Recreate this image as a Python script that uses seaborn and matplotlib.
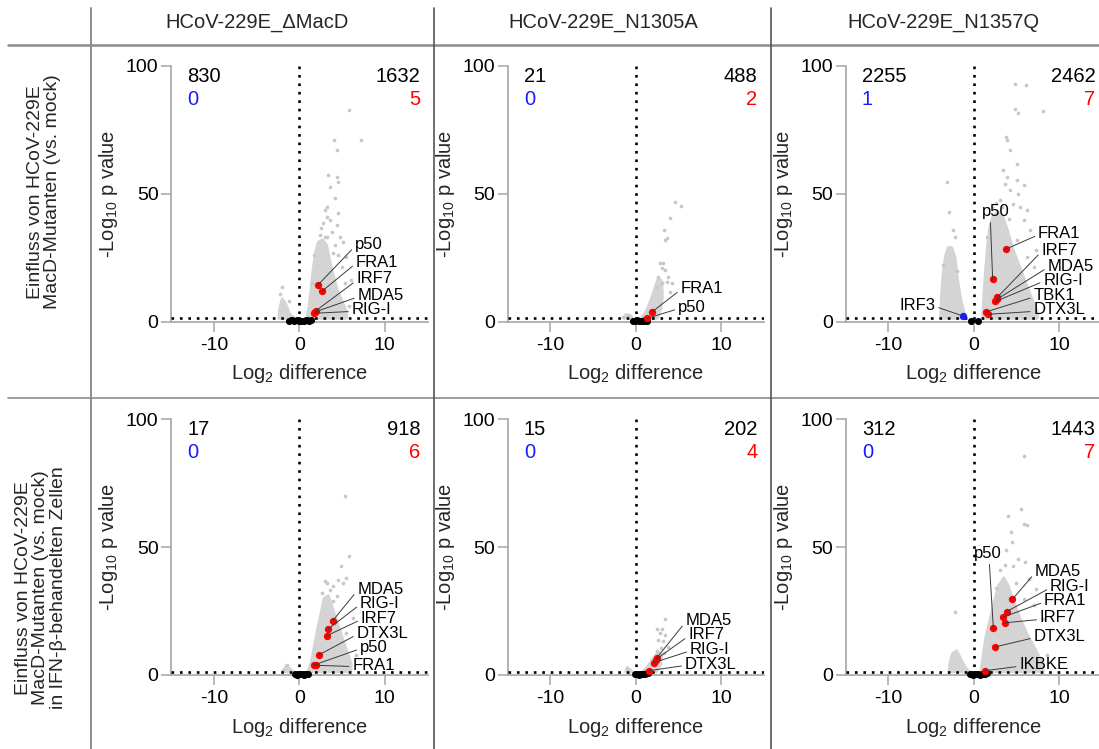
import matplotlib
matplotlib.use("Agg")
import matplotlib.pyplot as plt
import seaborn as sns
from matplotlib.lines import Line2D

sns.set_theme(style="white")
plt.rcParams["font.family"] = ["Liberation Sans", "DejaVu Sans"]
plt.rcParams["mathtext.fontset"] = "custom"
plt.rcParams["mathtext.rm"] = "Liberation Sans"
plt.rcParams["mathtext.it"] = "Liberation Sans:italic"
plt.rcParams["mathtext.bf"] = "Liberation Sans:bold"
plt.rcParams["axes.unicode_minus"] = False

# ---------------- data ----------------
col_titles = ["HCoV-229E_\u0394MacD", "HCoV-229E_N1305A", "HCoV-229E_N1357Q"]
row_labels = ["Einfluss von HCoV-229E\nMacD-Mutanten (vs. mock)",
              "Einfluss von HCoV-229E\nMacD-Mutanten (vs. mock)\nin IFN-\u03b2-behandelten Zellen"]
x_ticks = [-10, 0, 10]
y_ticks = [0, 50, 100]
sig_threshold = 1.3

left_total = [830, 21, 2255, 17, 15, 312]
left_hits = [0, 0, 1, 0, 0, 0]
right_total = [1632, 488, 2462, 918, 202, 1443]
right_hits = [5, 2, 7, 6, 4, 7]

# dense significant clouds (outline of densely packed points)
p1_cloud_x = [0.9, 1.1, 1.35, 1.6, 1.9, 2.2, 2.7, 3.2, 3.5, 3.9, 4.4, 5.0, 5.6, 5.5]
p1_cloud_y = [1.3, 5, 12, 20, 27, 31, 32, 30, 25, 19, 13, 8, 3.5, 1.3]
p1_lcloud_x = [-2.4, -2.3, -2.0, -1.6, -1.1, -0.6]
p1_lcloud_y = [1.3, 5, 9, 7, 3, 1.3]
p2_cloud_x = [0.6, 1.2, 1.8, 2.3, 2.6, 3.0, 3.1, 2.9, 2.5]
p2_cloud_y = [1.3, 4, 9, 14, 17, 16, 10, 5, 1.3]
p2_lcloud_x = [-1.4, -1.2, -0.7, -0.4]
p2_lcloud_y = [1.3, 2.8, 2.5, 1.3]
p3_cloud_x = [1.0, 1.15, 1.35, 1.6, 1.85, 2.2, 2.8, 3.4, 3.9, 4.5, 5.4, 6.3, 7.0, 7.5, 7.4]
p3_cloud_y = [1.3, 10, 20, 30, 37, 41, 43, 41, 36, 29, 21, 13, 7, 3, 1.3]
p3_lcloud_x = [-3.9, -3.8, -3.6, -3.3, -3.0, -2.6, -2.2, -1.9, -1.5, -1.1, -0.9]
p3_lcloud_y = [1.3, 10, 19, 26, 29, 29, 25, 16, 8, 3, 1.3]
p4_cloud_x = [1.0, 1.4, 1.8, 2.2, 2.6, 2.9, 3.4, 3.8, 4.3, 5.0, 5.6, 6.1, 6.0]
p4_cloud_y = [1.3, 5, 12, 19, 25, 30, 31, 27, 22, 15, 9, 4, 1.3]
p4_lcloud_x = [-1.8, -1.6, -1.2, -0.7]
p4_lcloud_y = [1.3, 3.5, 2.8, 1.3]
p5_cloud_x = [0.8, 1.4, 2.1, 2.6, 3.0, 2.9, 2.4]
p5_cloud_y = [1.3, 3.5, 7, 9, 8, 4, 1.3]
p5_lcloud_x = [-1.2, -1.0, -0.7, -0.5]
p5_lcloud_y = [1.3, 2.8, 2.2, 1.3]
p6_cloud_x = [0.8, 1.0, 1.4, 1.9, 2.4, 2.9, 3.5, 4.0, 4.6, 5.3, 6.2, 7.2, 8.0, 8.1]
p6_cloud_y = [1.3, 6, 15, 22, 29, 35, 38, 35, 29, 23, 16, 10, 4.5, 1.3]
p6_lcloud_x = [-2.9, -2.8, -2.5, -2.0, -1.5, -1.0, -0.6]
p6_lcloud_y = [1.3, 5, 8.5, 9.5, 6, 3, 1.3]

# sparse significant points (grey)
p1_gray_x = [5.85, 4.1, 7.2, 4.37, 3.4, 4.37, 4.56, 3.6, 4.17, 3.2, 3.0, 4.56, 3.27, 2.8, 3.6,
             4.37, 2.6, 3.78, 4.76, 3.0, 5.15, 4.17, 4.56, 5.5, 4.95, 5.34, 6.1, -2.07, -2.3, -1.2,
             2.4, 3.3, 3.9, 1.7, 1.5, 5.8]
p1_gray_y = [82.7, 71, 71, 67, 57.3, 56.6, 54.7, 52.7, 48.2, 44.9, 43.6, 42.3, 41, 38.4, 39.7,
             37.8, 36.5, 35.2, 33.2, 33.2, 31.3, 30, 26, 25.4, 21.5, 15, 16.3, 13.4, 11, 8,
             34, 33, 27, 26, 15, 6]
p2_gray_x = [4.6, 5.25, 3.97, 3.27, 3.6, 3.4, 2.8, 3.2, 3.0, 3.4, 3.8, 2.6, 3.6, 3.1, 4.2,
             2.4, 4.0, -1.48, -0.9]
p2_gray_y = [46.9, 45.3, 40.6, 36, 32.6, 31.9, 23, 22.8, 20.8, 20.2, 17.6, 17.6, 15.6, 15, 15,
             13.7, 11.7, 2.0, 2.6]
p3_gray_x = [4.8, 6.1, 4.8, 5.2, 8.05, 3.8, 3.9, 4.2, 5.0, 3.44, 3.9, 3.6, 5.0, 4.2, 5.2, 5.8,
             3.05, 4.6, 5.4, 6.2, 5.8, 6.6, 7.3, 6.2, 7.0, 5.0, -3.2, -2.9, -2.4, -2.2,
             2.1, 2.6, 3.3, 4.1, 1.5, -3.6, -2.0]
p3_gray_y = [93, 92.7, 83, 81.4, 82.3, 72.3, 71, 67, 61.8, 59.2, 56.6, 54, 55.3, 51.4, 50.1, 53.4,
             47.5, 46.2, 44.9, 43.6, 39.7, 35.8, 28, 25.4, 21.5, 31.9, 54.7, 43, 35.8, 33.2,
             45, 46.5, 45, 40, 33, 22, 20]
p4_gray_x = [5.33, 5.84, 4.94, 5.45, 3.0, 3.27, 5.1, 3.58, 4.36, 4.55, 3.97, 6.3, 5.5, -1.48, -1.87,
             2.7, 4.0, 6.6]
p4_gray_y = [69.9, 46.7, 42.5, 37.9, 36.6, 36, 36, 33.3, 30.7, 37.3, 34.6, 22.2, 16.3, 3.9, 2.0,
             32, 29, 8]
p5_gray_x = [3.4, 2.5, 3.07, 2.84, 3.4, 2.6, 3.15, 2.9, 2.4, 3.3, 3.8, -1.1, -0.9]
p5_gray_y = [21.8, 17.9, 17.9, 16.3, 15.7, 13.7, 13.1, 10.5, 9.2, 8.5, 11.1, 2.6, 0.7]
p6_gray_x = [5.9, 4.0, 5.5, 5.8, 6.2, 4.3, 4.4, 3.8, 5.2, 6.0, 4.6, 6.4, 7.3, 7.0, 5.8, 8.1, -2.2,
             3.1, 3.6, 4.9, 2.6, 8.5]
p6_gray_y = [85.5, 62.1, 65, 59.1, 58.5, 55.9, 52, 48.7, 45.4, 44.1, 42.8, 37.6, 33.7, 27.2, 29.8,
             21.9, 24.5, 41, 43, 36, 34, 8]

# non-significant points (black)
p1_ns_x = [-1.2, -0.9, -0.6, -0.3, 0.0, 0.2, 0.5, 0.8, 1.1, 1.35]
p1_ns_y = [0.3, 0.6, 0.2, 0.5, 0.4, 0.1, 0.3, 0.6, 0.4, 0.8]
p2_ns_x = [-0.3, -0.1, 0.1, 0.3, 0.5, 0.7, 0.9, 1.1, 1.25]
p2_ns_y = [0.4, 0.2, 0.5, 0.3, 0.1, 0.4, 0.2, 0.5, 0.3]
p3_ns_x = [-0.35, 0.5]
p3_ns_y = [0.2, 0.2]
p4_ns_x = [-0.5, -0.3, -0.1, 0.1, 0.3, 0.5, 0.7, 0.9, 1.05]
p4_ns_y = [0.3, 0.1, 0.4, 0.2, 0.3, 0.1, 0.4, 0.2, 0.3]
p5_ns_x = [-0.1, 0.1, 0.3, 0.5, 0.7, 0.9, 1.1, 1.3, 1.45]
p5_ns_y = [0.2, 0.4, 0.1, 0.3, 0.2, 0.5, 0.3, 0.6, 0.8]
p6_ns_x = [-0.5, -0.3, -0.1, 0.1, 0.3, 0.5, 0.7, 0.9, 1.1, 1.3, 1.5]
p6_ns_y = [0.2, 0.4, 0.1, 0.3, 0.2, 0.4, 0.1, 0.3, 0.5, 0.4, 0.7]

# highlighted genes
p1_genes = ["p50", "FRA1", "IRF7", "MDA5", "RIG-I"]
p1_gx = [2.14, 2.69, 1.95, 1.85, 1.75]
p1_gy = [14.2, 12.0, 4.3, 3.8, 3.3]
p2_genes = ["FRA1", "p50"]
p2_gx = [1.9, 1.28]
p2_gy = [3.9, 1.3]
p3_genes = ["p50", "FRA1", "IRF7", "MDA5", "RIG-I", "TBK1", "DTX3L", "IRF3"]
p3_gx = [2.19, 3.75, 2.73, 2.66, 2.5, 1.4, 1.68, -1.25]
p3_gy = [16.7, 28.4, 9.5, 8.7, 7.9, 3.8, 2.9, 2.2]
p4_genes = ["MDA5", "RIG-I", "IRF7", "DTX3L", "p50", "FRA1"]
p4_gx = [3.93, 3.35, 3.19, 2.26, 1.71, 1.95]
p4_gy = [21.3, 17.9, 15.3, 7.8, 3.9, 3.8]
p5_genes = ["MDA5", "IRF7", "RIG-I", "DTX3L"]
p5_gx = [2.45, 2.3, 2.05, 1.56]
p5_gy = [6.8, 6.0, 4.8, 1.7]
p6_genes = ["MDA5", "RIG-I", "FRA1", "IRF7", "p50", "DTX3L", "IKBKE"]
p6_gx = [4.5, 3.83, 3.4, 3.6, 2.27, 2.5, 1.33]
p6_gy = [29.6, 24.8, 22.6, 20.4, 18.3, 11.0, 1.7]
down_genes = ["IRF3"]

# ---------------- layout (label placement) ----------------
p1_tx = [6.5, 6.6, 6.7, 6.8, 6.1]
p1_ty = [30, 23.3, 16.7, 10.2, 4.6]
p2_tx = [5.2, 4.9]
p2_ty = [13, 5.6]
p3_tx = [0.94, 7.5, 7.9, 8.6, 8.1, 6.95, 6.95, -4.5]
p3_ty = [40, 34.5, 28, 21.7, 16.3, 10.2, 4.6, 6.5]
p4_tx = [6.8, 7.1, 7.2, 6.7, 7.1, 6.2]
p4_ty = [33.6, 28.1, 22.2, 16.3, 10.8, 3.9]
p5_tx = [5.8, 6.1, 6.3, 5.7]
p5_ty = [21.3, 15.7, 10.0, 4.3]
p6_tx = [7.15, 8.9, 8.2, 7.7, 0.0, 6.95, 5.3]
p6_ty = [40.5, 34.6, 29.1, 22.3, 44.5, 15.1, 4.0]

panels = [
    dict(cx=p1_cloud_x, cy=p1_cloud_y, lx=p1_lcloud_x, ly=p1_lcloud_y, gx=p1_gray_x, gy=p1_gray_y,
         nx=p1_ns_x, ny=p1_ns_y, genes=p1_genes, hx=p1_gx, hy=p1_gy, tx=p1_tx, ty=p1_ty),
    dict(cx=p2_cloud_x, cy=p2_cloud_y, lx=p2_lcloud_x, ly=p2_lcloud_y, gx=p2_gray_x, gy=p2_gray_y,
         nx=p2_ns_x, ny=p2_ns_y, genes=p2_genes, hx=p2_gx, hy=p2_gy, tx=p2_tx, ty=p2_ty),
    dict(cx=p3_cloud_x, cy=p3_cloud_y, lx=p3_lcloud_x, ly=p3_lcloud_y, gx=p3_gray_x, gy=p3_gray_y,
         nx=p3_ns_x, ny=p3_ns_y, genes=p3_genes, hx=p3_gx, hy=p3_gy, tx=p3_tx, ty=p3_ty),
    dict(cx=p4_cloud_x, cy=p4_cloud_y, lx=p4_lcloud_x, ly=p4_lcloud_y, gx=p4_gray_x, gy=p4_gray_y,
         nx=p4_ns_x, ny=p4_ns_y, genes=p4_genes, hx=p4_gx, hy=p4_gy, tx=p4_tx, ty=p4_ty),
    dict(cx=p5_cloud_x, cy=p5_cloud_y, lx=p5_lcloud_x, ly=p5_lcloud_y, gx=p5_gray_x, gy=p5_gray_y,
         nx=p5_ns_x, ny=p5_ns_y, genes=p5_genes, hx=p5_gx, hy=p5_gy, tx=p5_tx, ty=p5_ty),
    dict(cx=p6_cloud_x, cy=p6_cloud_y, lx=p6_lcloud_x, ly=p6_lcloud_y, gx=p6_gray_x, gy=p6_gray_y,
         nx=p6_ns_x, ny=p6_ns_y, genes=p6_genes, hx=p6_gx, hy=p6_gy, tx=p6_tx, ty=p6_ty),
]

GRAY = "#d4d4d4"
RED = "#ff0000"
BLUE = "#1a1aff"
AXCOL = "#a6a6a6"

fig = plt.figure(figsize=(10.99, 7.49), dpi=100)
fig.patch.set_facecolor("white")

lefts = [0.1556, 0.462, 0.7695]
bottoms = [0.5705, 0.0988]
W, H = 0.2334, 0.3415

for i, P in enumerate(panels):
    r, c = divmod(i, 3)
    ax = fig.add_axes([lefts[c], bottoms[r], W, H])
    ax.set_facecolor("white")
    ax.set_xlim(-15, 15)
    ax.set_ylim(0, 100)

    ax.fill(P["cx"], P["cy"], color=GRAY, lw=2.0, ec=GRAY, joinstyle="round", zorder=1)
    ax.fill(P["lx"], P["ly"], color=GRAY, lw=2.0, ec=GRAY, joinstyle="round", zorder=1)
    sns.scatterplot(x=P["gx"], y=P["gy"], color="#c8c8c8", s=7, linewidth=0, ax=ax,
                    zorder=2, legend=False)

    ax.axhline(sig_threshold, color="black", lw=1.9, ls=(0, (1, 2.2)), zorder=3)
    ax.plot([0, 0], [0, 100], color="black", lw=1.9, ls=(0, (1, 2.2)), zorder=3)

    sns.scatterplot(x=P["nx"], y=P["ny"], color="black", s=26, linewidth=0, ax=ax,
                    zorder=4, legend=False, clip_on=False)

    is_down = [g in down_genes for g in P["genes"]]
    up_x = [x for x, d in zip(P["hx"], is_down) if not d]
    up_y = [y for y, d in zip(P["hy"], is_down) if not d]
    dn_x = [x for x, d in zip(P["hx"], is_down) if d]
    dn_y = [y for y, d in zip(P["hy"], is_down) if d]
    sns.scatterplot(x=up_x, y=up_y, color=RED, s=28, linewidth=0, ax=ax, zorder=6, legend=False)
    if dn_x:
        sns.scatterplot(x=dn_x, y=dn_y, color=BLUE, s=28, linewidth=0, ax=ax, zorder=6,
                        legend=False)

    for g, hx, hy, tx, ty, d in zip(P["genes"], P["hx"], P["hy"], P["tx"], P["ty"], is_down):
        if d:
            ha, va, rel = "right", "center", (1.0, 0.4)
        elif g == "p50" and tx < 1.5:
            ha, va, rel = "left", "bottom", (0.3 if tx > 0.5 else 0.55, 0.05)
        else:
            ha, va, rel = "left", "center", (0.0, 0.4)
        ax.annotate(g, xy=(hx, hy), xytext=(tx, ty), textcoords="data", ha=ha, va=va,
                    fontsize=12, color="black", zorder=7,
                    arrowprops=dict(arrowstyle="-", color="#3a3a3a", lw=0.7,
                                    shrinkA=0, shrinkB=0, relpos=rel))

    ax.text(-13.1, 96, str(left_total[i]), ha="left", va="center", fontsize=14.5, color="black")
    ax.text(-13.1, 87, str(left_hits[i]), ha="left", va="center", fontsize=14.5, color=BLUE)
    ax.text(14.2, 96, str(right_total[i]), ha="right", va="center", fontsize=14.5, color="black")
    ax.text(14.2, 87, str(right_hits[i]), ha="right", va="center", fontsize=14.5, color=RED)

    for side in ["top", "right"]:
        ax.spines[side].set_visible(False)
    for side in ["left", "bottom"]:
        ax.spines[side].set_color(AXCOL)
        ax.spines[side].set_linewidth(1.2)
    ax.set_xticks(x_ticks)
    ax.set_yticks(y_ticks)
    ax.tick_params(axis="both", which="major", direction="out", length=7, width=1.1,
                   color=AXCOL, labelsize=14, labelcolor="black", left=True, bottom=True)
    ax.tick_params(axis="x", pad=4)
    ax.tick_params(axis="y", pad=2)
    ax.set_xlabel("Log$_2$ difference", fontsize=14.5, labelpad=6)
    ax.set_ylabel("-Log$_{10}$ p value", fontsize=14.5, labelpad=4)
    ax.grid(False)

# column titles
for c, t in enumerate(col_titles):
    fig.text([0.2339, 0.5487, 0.858][c], 0.9706, t, ha="center", va="center", fontsize=14.5)

# row labels
fig.text(0.040, 0.744, row_labels[0], rotation=90, ha="center", va="center",
         fontsize=14, multialignment="center", linespacing=1.05)
fig.text(0.037, 0.215, row_labels[1], rotation=90, ha="center", va="center",
         fontsize=14, multialignment="center", linespacing=1.05)

# table rules
LC = "#8c8c8c"
fig.add_artist(Line2D([0.0073, 1.0], [0.9399, 0.9399], color=LC, lw=1.8))
fig.add_artist(Line2D([0.0073, 1.0], [0.4686, 0.4686], color=LC, lw=1.2))
fig.add_artist(Line2D([0.0828, 0.0828], [0.0, 0.9893], color=LC, lw=1.4))
fig.add_artist(Line2D([0.3949, 0.3949], [0.0, 0.9893], color="#555555", lw=1.2))
fig.add_artist(Line2D([0.7015, 0.7015], [0.0, 0.9893], color="#555555", lw=1.2))

fig.savefig("out.png", dpi=100, facecolor="white")
